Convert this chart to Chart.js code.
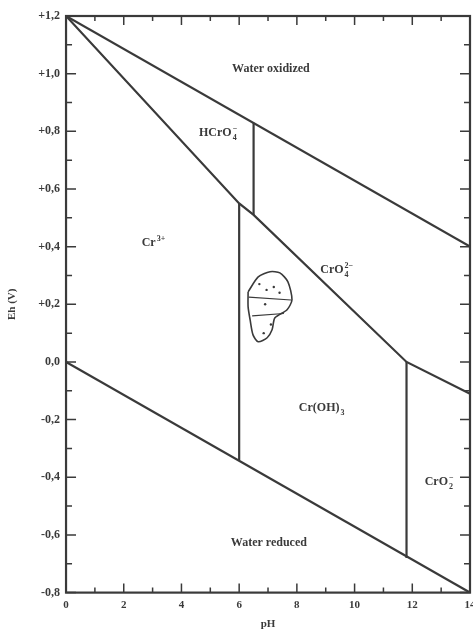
<!DOCTYPE html>
<html>
<head>
<meta charset="utf-8">
<script src="https://cdn.jsdelivr.net/npm/chart.js"></script>
<style>
  html, body { margin: 0; padding: 0; background: #fff; overflow: hidden; }
  #wrap { width: 473px; height: 631px; overflow: hidden; }
  #box { position: relative; width: 482px; height: 631px; }
</style>
</head>
<body>
<div id="wrap"><div id="box"><canvas id="pourbaix"></canvas></div></div>
<script>
// axis ticks
const xTicks = [0, 2, 4, 6, 8, 10, 12, 14];
const yTicks = [-0.8, -0.6, -0.4, -0.2, 0, 0.2, 0.4, 0.6, 0.8, 1.0, 1.2];

// boundary lines (pH, Eh in V)
const waterOxPH = [0, 14];
const waterOxEh = [1.2, 0.4];
const waterRedPH = [0, 14];
const waterRedEh = [0.0, -0.8];
const crIIIvsVIPH = [0, 6, 6.5, 11.8, 14];
const crIIIvsVIEh = [1.2, 0.55, 0.51, 0.0, -0.11];
const hcro4CutPH = [6.5, 6.5];
const hcro4CutEh = [0.83, 0.51];
const cr3CutPH = [6, 6];
const cr3CutEh = [0.55, -0.34];
const cro2CutPH = [11.8, 11.8];
const cro2CutEh = [0.0, -0.68];

// sample field outline
const blobPH = [6.31, 6.66, 7.07, 7.41, 7.69, 7.83, 7.66, 7.24, 7.14, 6.97, 6.66, 6.48, 6.38, 6.31, 6.31];
const blobEh = [0.243, 0.295, 0.313, 0.309, 0.278, 0.216, 0.181, 0.153, 0.112, 0.084, 0.070, 0.094, 0.146, 0.191, 0.243];
const band1PH = [6.33, 7.80];
const band1Eh = [0.225, 0.215];
const band2PH = [6.45, 7.55];
const band2Eh = [0.160, 0.168];
const dotPH = [6.7, 6.95, 7.2, 7.4, 6.9, 7.1, 6.85];
const dotEh = [0.27, 0.25, 0.26, 0.24, 0.20, 0.13, 0.10];

// region names
const regionLabels = [
  { x: 7.1, y: 1.015, parts: [["Water oxidized", "n"]] },
  { x: 5.27, y: 0.795, parts: [["HCrO", "n"], ["4", "subsup", "\u2212"]] },
  { x: 3.03, y: 0.413, parts: [["Cr", "n"], ["3+", "sup"]] },
  { x: 9.38, y: 0.32, parts: [["CrO", "n"], ["4", "subsup", "2\u2212"]] },
  { x: 8.86, y: -0.16, parts: [["Cr(OH)", "n"], ["3", "sub"]] },
  { x: 12.93, y: -0.415, parts: [["CrO", "n"], ["2", "subsup", "\u2212"]] },
  { x: 7.03, y: -0.627, parts: [["Water reduced", "n"]] },
];

const ink = "#3a3a3a";
const serif = "'Liberation Serif', 'DejaVu Serif', serif";

function pts(xs, ys) {
  return xs.map((x, i) => ({ x: x, y: ys[i] }));
}

function line(xs, ys, width) {
  return {
    data: pts(xs, ys),
    showLine: true,
    borderColor: ink,
    borderWidth: width || 2.2,
    pointRadius: 0,
    fill: false,
    tension: 0,
  };
}

const blob = line(blobPH, blobEh, 1.6);
blob.tension = 0.25;

const dots = {
  data: pts(dotPH, dotEh),
  showLine: false,
  pointRadius: 1.2,
  pointBackgroundColor: ink,
  pointBorderWidth: 0,
};

const frameAndTicks = {
  id: "frameAndTicks",
  afterDraw(chart) {
    const { ctx, chartArea: a, scales } = chart;
    const xs = scales.x, ys = scales.y;
    ctx.save();
    ctx.strokeStyle = ink;
    ctx.lineWidth = 2.2;
    ctx.strokeRect(a.left, a.top, a.right - a.left, a.bottom - a.top);
    ctx.lineWidth = 1.5;
    ctx.beginPath();
    for (let v = 0; v <= 14; v++) {
      const px = xs.getPixelForValue(v);
      const len = v % 2 === 0 ? 9 : 5;
      ctx.moveTo(px, a.bottom); ctx.lineTo(px, a.bottom - len);
      ctx.moveTo(px, a.top); ctx.lineTo(px, a.top + len);
    }
    for (let k = -8; k <= 12; k++) {
      const py = ys.getPixelForValue(k / 10);
      const len = k % 2 === 0 ? 10 : 6;
      ctx.moveTo(a.left, py); ctx.lineTo(a.left + len, py);
      ctx.moveTo(a.right, py); ctx.lineTo(a.right - len, py);
    }
    ctx.stroke();

    // region labels
    ctx.fillStyle = ink;
    ctx.textBaseline = "middle";
    const big = "bold 12px " + serif;
    const small = "bold 8px " + serif;
    regionLabels.forEach((lab) => {
      let w = 0;
      lab.parts.forEach((p) => {
        ctx.font = p[1] === "n" ? big : small;
        let pw = ctx.measureText(p[0]).width;
        if (p[1] === "subsup") pw = Math.max(pw, ctx.measureText(p[2]).width);
        w += pw + (p[1] === "n" ? 0 : 1);
      });
      let cx = xs.getPixelForValue(lab.x) - w / 2;
      const cy = ys.getPixelForValue(lab.y);
      ctx.textAlign = "left";
      lab.parts.forEach((p) => {
        if (p[1] === "n") {
          ctx.font = big;
          ctx.fillText(p[0], cx, cy);
          cx += ctx.measureText(p[0]).width;
        } else {
          ctx.font = small;
          cx += 1;
          let pw = ctx.measureText(p[0]).width;
          if (p[1] === "sub" || p[1] === "subsup") ctx.fillText(p[0], cx, cy + 5);
          if (p[1] === "sup") ctx.fillText(p[0], cx, cy - 4);
          if (p[1] === "subsup") {
            ctx.fillText(p[2], cx, cy - 4);
            pw = Math.max(pw, ctx.measureText(p[2]).width);
          }
          cx += pw;
        }
      });
    });
    ctx.restore();
  },
};

new Chart(document.getElementById("pourbaix"), {
  type: "scatter",
  data: {
    datasets: [
      line(waterOxPH, waterOxEh),
      line(waterRedPH, waterRedEh),
      line(crIIIvsVIPH, crIIIvsVIEh),
      line(hcro4CutPH, hcro4CutEh),
      line(cr3CutPH, cr3CutEh),
      line(cro2CutPH, cro2CutEh),
      blob,
      line(band1PH, band1Eh, 1.2),
      line(band2PH, band2Eh, 1.2),
      dots,
    ],
  },
  options: {
    responsive: true,
    maintainAspectRatio: false,
    animation: false,
    layout: { padding: { top: 16, right: 12, left: 6, bottom: 0 } },
    plugins: {
      legend: { display: false },
      tooltip: { enabled: false },
    },
    scales: {
      x: {
        type: "linear",
        min: 0,
        max: 14,
        afterBuildTicks: (s) => { s.ticks = xTicks.map((v) => ({ value: v })); },
        grid: { display: false, drawTicks: false },
        border: { display: false },
        ticks: {
          color: ink,
          padding: 6,
          maxRotation: 0,
          font: { family: serif, size: 11, weight: "bold" },
        },
        title: {
          display: true,
          text: "pH",
          color: ink,
          padding: { top: 0, bottom: 0 },
          font: { family: serif, size: 11, weight: "bold" },
        },
      },
      y: {
        type: "linear",
        min: -0.8,
        max: 1.2,
        afterBuildTicks: (s) => { s.ticks = yTicks.map((v) => ({ value: v })); },
        grid: { display: false, drawTicks: false },
        border: { display: false },
        ticks: {
          color: ink,
          padding: 6,
          font: { family: serif, size: 12, weight: "bold" },
          callback: (v) => {
            const s = Math.abs(v).toFixed(1).replace(".", ",");
            if (Math.abs(v) < 1e-9) return "0,0";
            return (v > 0 ? "+" : "-") + s;
          },
        },
        title: {
          display: true,
          text: "Eh (V)",
          color: ink,
          padding: { top: 0, bottom: 13 },
          font: { family: serif, size: 11, weight: "bold" },
        },
      },
    },
  },
  plugins: [frameAndTicks],
});
</script>
</body>
</html>
